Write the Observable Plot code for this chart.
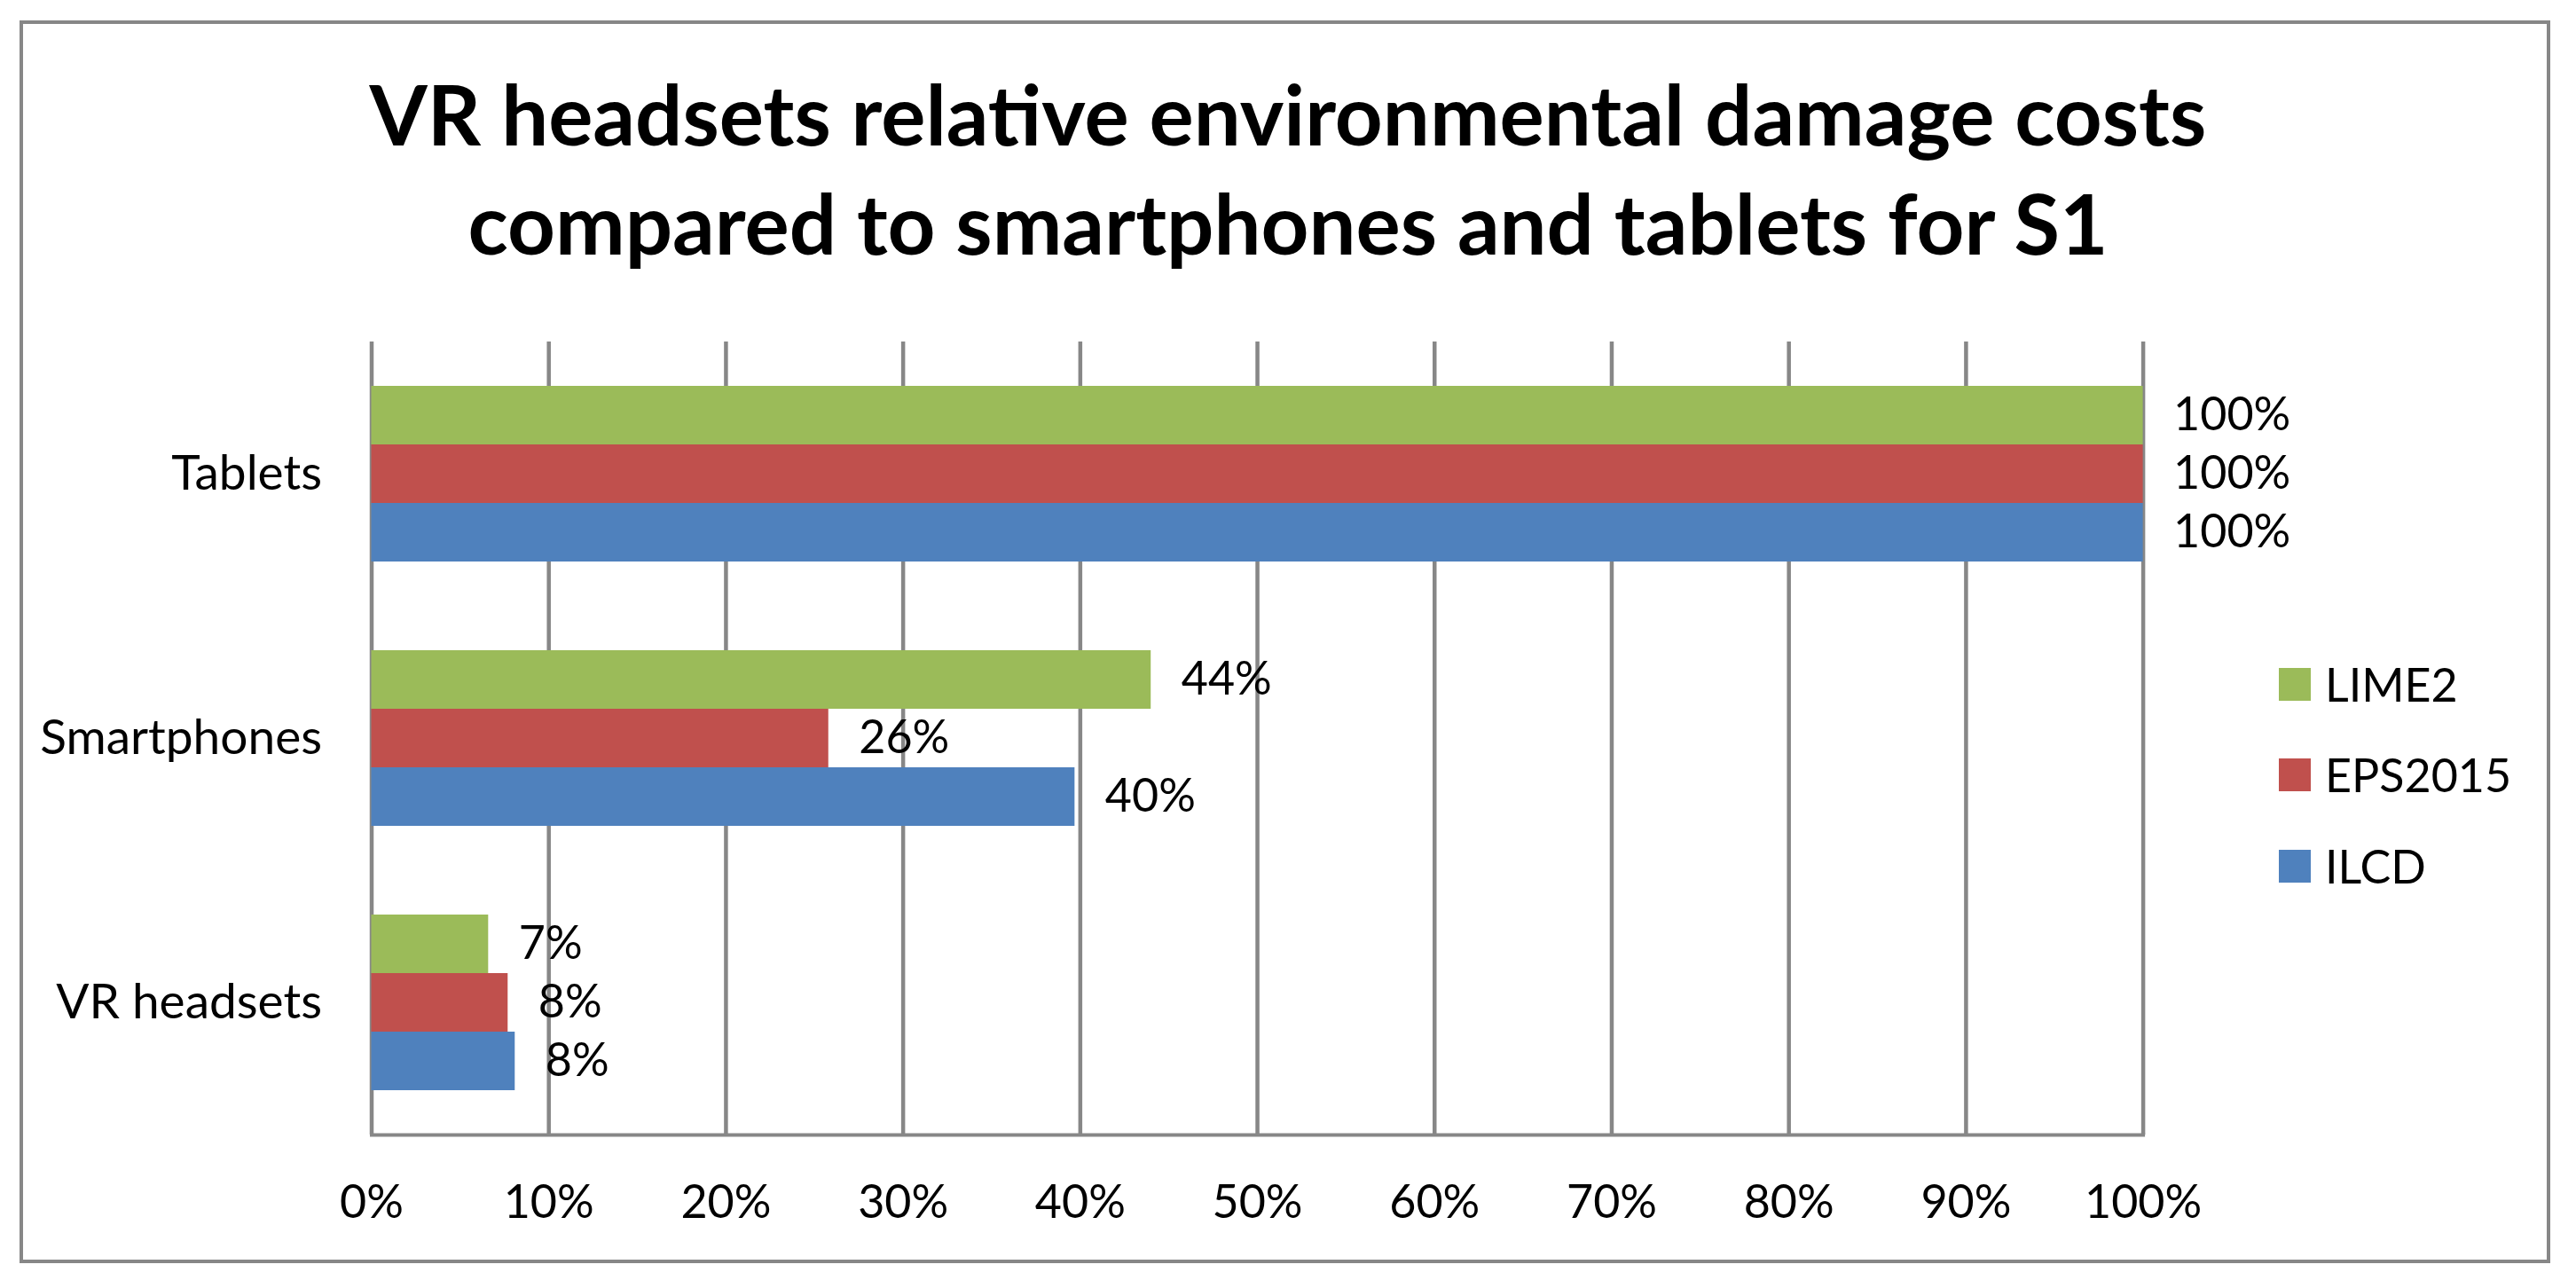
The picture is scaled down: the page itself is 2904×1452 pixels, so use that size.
<!DOCTYPE html>
<html>
<head>
<meta charset="utf-8">
<script src="https://cdn.jsdelivr.net/npm/d3@7"></script>
<script src="https://cdn.jsdelivr.net/npm/@observablehq/plot@0.6"></script>
<style>
  html, body { margin: 0; padding: 0; background: #fff; }
  body { width: 2904px; height: 1452px; position: relative; overflow: hidden; font-family: Lato, sans-serif; color: #000; }
  #frame { position: absolute; left: 22px; top: 23px; width: 2853px; height: 1401px; border: 4.5px solid #878787; box-sizing: border-box; }
  #title { position: absolute; left: 0; top: 66px; width: 2904px; text-align: center; font-weight: 700; font-size: 94px; line-height: 123px; }
  #chart { position: absolute; left: 0; top: 330px; }
  #legend { position: absolute; left: 2569px; top: 0; }
  .item { position: absolute; left: 0; height: 60px; display: flex; align-items: center; white-space: nowrap; font-size: 52px; }
  .sw { width: 36px; height: 37px; margin-right: 16px; flex: none; }
</style>
</head>
<body>
<div id="frame"></div>
<div id="title">VR headsets relative environmental damage costs<br>compared to smartphones and tablets for S1</div>
<div id="chart"></div>
<div id="legend"></div>
<script>
const categories = ["Tablets", "Smartphones", "VR headsets"];
const series = ["LIME2", "EPS2015", "ILCD"];
const colors = ["#9BBB59", "#C0504D", "#4F81BD"];
const lime2 = [100, 44.0, 6.6];
const eps2015 = [100, 25.8, 7.7];
const ilcd = [100, 39.7, 8.1];
const xTicks = [0, 10, 20, 30, 40, 50, 60, 70, 80, 90, 100];

const seriesValues = {LIME2: lime2, EPS2015: eps2015, ILCD: ilcd};
const rows = [];
categories.forEach((c, i) => series.forEach(s => rows.push({category: c, series: s, value: seriesValues[s][i]})));

const grid = "#878787";
const chart = Plot.plot({
  width: 2904,
  height: 1090,
  marginTop: 54,
  marginBottom: 140.5,
  marginLeft: 418.5,
  marginRight: 488.4,
  style: {fontFamily: "Lato, sans-serif", fontSize: "52px", color: "#000", background: "transparent", maxWidth: "none"},
  x: {domain: [0, 100], ticks: xTicks, tickFormat: d => d + "%", tickSize: 0, tickPadding: 57, label: null},
  fy: {domain: categories, padding: 0, label: null},
  y: {domain: series, paddingInner: 0, paddingOuter: 0.734, axis: null},
  color: {domain: series, range: colors},
  marks: [
    Plot.axisFy({anchor: "left", fontSize: 55, tickSize: 0, tickPadding: 56, label: null}),
    Plot.ruleX(xTicks, {x: d => d, stroke: grid, strokeWidth: 4.5, strokeOpacity: 1}),
    Plot.frame({anchor: "bottom", facetAnchor: "bottom", stroke: grid, strokeWidth: 4, strokeOpacity: 1}),
    Plot.barX(rows, {x: "value", y: "series", fy: "category", fill: "series"}),
    Plot.text(rows, {x: "value", y: "series", fy: "category", text: d => Math.round(d.value) + "%", textAnchor: "start", dx: 34, fill: "#000"})
  ]
});
document.getElementById("chart").appendChild(chart);

const legend = document.getElementById("legend");
const centers = [771, 873, 976];
series.forEach((s, i) => {
  const item = document.createElement("div");
  item.className = "item";
  item.style.top = (centers[i] - 30) + "px";
  const sw = document.createElement("div");
  sw.className = "sw";
  sw.style.background = colors[i];
  const label = document.createElement("span");
  label.textContent = s;
  item.appendChild(sw);
  item.appendChild(label);
  legend.appendChild(item);
});
</script>
</body>
</html>
